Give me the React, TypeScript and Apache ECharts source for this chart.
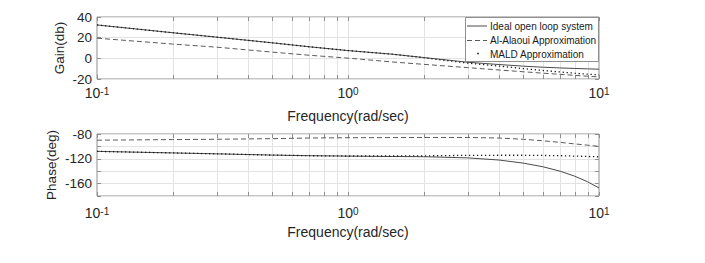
import React, { useEffect, useRef } from "react";
import * as echarts from "echarts";

const freqs = [0.1, 0.2, 0.3, 0.5, 0.7, 1, 1.5, 2, 3, 4, 5, 6, 7, 8, 9, 10];
const idealGain = [32.3, 24.8, 20.5, 15, 11.2, 7.5, 4.0, 0.8, -3.8, -6.0, -7.6, -8.6, -9.3, -9.8, -10.2, -10.5];
const alaouiGain = [19.5, 13.8, 10.8, 6.0, 3.0, 0.2, -3.5, -5.8, -9.0, -11.3, -13.0, -14.4, -15.5, -16.5, -17.3, -18.0];
const maldGain = [32.3, 24.8, 20.5, 15, 11.2, 7.5, 4.0, 0.6, -4.6, -7.5, -10.0, -11.8, -13.2, -14.4, -15.3, -16.0];
const idealPhase = [-108, -110.5, -112, -114, -115, -115.7, -116.3, -116.6, -118.5, -122, -127, -133, -140, -148, -157, -167];
const alaouiPhase = [-90, -89, -88.5, -87.5, -86.5, -86, -85.8, -85.6, -85.6, -86.5, -88.5, -91, -93.5, -96, -98, -100];
const maldPhase = [-108, -110.5, -112, -114, -115, -115.5, -115.5, -115.3, -114.4, -114.3, -114.3, -114.6, -115, -115.6, -116.2, -116.8];
const logTicks = [0.1, 0.2, 0.3, 0.4, 0.5, 0.6, 0.7, 0.8, 0.9, 1, 2, 3, 4, 5, 6, 7, 8, 9, 10];
const legendNames = ["Ideal open loop system", "Al-Alaoui Approximation", "MALD Approximation"];

const FONT = '"Liberation Sans", Arial, Helvetica, sans-serif';
const TXT = "#262626";
const GRIDC = "#e3e3e3";
const BOX = "#8f8f8f";

function pairs(vals: number[]) {
  return freqs.map((f, i) => [f, vals[i]]);
}

export default function App() {
  const ref = useRef<HTMLDivElement>(null);
  useEffect(() => {
    if (!ref.current) return;
    const chart = echarts.init(ref.current, undefined, { renderer: "svg" });

    const xAxisFor = (gridIndex: number, margin: number, nameGap: number) => ({
      type: "log",
      logBase: 10,
      gridIndex,
      min: 0.1,
      max: 10,
      name: "Frequency(rad/sec)",
      nameLocation: "middle",
      nameGap,
      nameMoveOverlap: false,
      nameTextStyle: { fontSize: 14, color: TXT, fontFamily: FONT },
      axisLine: { show: false },
      axisTick: { show: false },
      splitLine: { show: false },
      axisLabel: {
        margin,
        formatter: (v: number) => `{b|10}{s|${Math.round(Math.log10(v))}}`,
        rich: {
          b: { fontSize: 14, lineHeight: 14, color: TXT, fontFamily: FONT },
          s: { fontSize: 10, lineHeight: 8, verticalAlign: "top", color: TXT, fontFamily: FONT },
        },
      },
    });

    const yLeft = (gridIndex: number, min: number, max: number, name: string, nameGap: number, labelEvery: number) => ({
      type: "value",
      gridIndex,
      min,
      max,
      interval: 20,
      name,
      nameLocation: "middle",
      nameGap,
      nameMoveOverlap: false,
      nameTextStyle: { fontSize: 13.5, color: TXT, fontFamily: FONT },
      axisLine: { show: false },
      axisTick: { show: true, inside: true, length: 4, lineStyle: { color: BOX } },
      splitLine: { show: true, lineStyle: { color: GRIDC, width: 1 } },
      axisLabel: {
        margin: 5,
        fontSize: 13.5,
        lineHeight: 10,
        color: TXT,
        fontFamily: FONT,
        formatter: (v: number) => ((v - max) % labelEvery === 0 ? String(v) : ""),
      },
    });

    const yRight = (gridIndex: number, min: number, max: number) => ({
      type: "value",
      gridIndex,
      position: "right",
      min,
      max,
      interval: 20,
      axisLine: { show: false },
      axisTick: { show: true, inside: true, length: 4, lineStyle: { color: BOX } },
      splitLine: { show: false },
      axisLabel: { show: false },
    });

    const minorSeries = (idx: number) => ({
      type: "custom",
      xAxisIndex: idx,
      yAxisIndex: idx * 2,
      silent: true,
      z: 1,
      data: logTicks.map((f) => [f, 0]),
      renderItem: (params: any, api: any) => {
        const cs = params.coordSys;
        const f = api.value(0);
        const px = Math.round(api.coord([f, 0])[0]) + 0.5;
        const top = cs.y;
        const bot = cs.y + cs.height;
        const children: any[] = [];
        if (f > 0.1 && f < 10) {
          children.push({ type: "line", shape: { x1: px, y1: top, x2: px, y2: bot }, style: { stroke: GRIDC, lineWidth: 1 } });
        }
        children.push({ type: "line", shape: { x1: px, y1: bot, x2: px, y2: bot - 4 }, style: { stroke: BOX, lineWidth: 1 } });
        children.push({ type: "line", shape: { x1: px, y1: top, x2: px, y2: top + 4 }, style: { stroke: BOX, lineWidth: 1 } });
        return { type: "group", children };
      },
    });

    const lineS = (idx: number, name: string, vals: number[], kind: string) => ({
      type: "line",
      name,
      xAxisIndex: idx,
      yAxisIndex: idx * 2,
      data: pairs(vals),
      showSymbol: false,
      symbol: "none",
      smooth: false,
      z: 3,
      lineStyle:
        kind === "solid"
          ? { color: "#4a4a4a", width: 1, type: "solid" }
          : kind === "dashed"
          ? { color: "#5a5a5a", width: 1, type: [5, 3] }
          : { color: "#1a1a1a", width: 1.3, type: [1.3, 2.7] },
    });

    const lx = 467;
    const rows = [26, 40.5, 54.5];
    const Z = 100;

    chart.setOption({
      animation: false,
      backgroundColor: "#ffffff",
      textStyle: { fontFamily: FONT },
      grid: [
        { left: 97, top: 17, width: 502, height: 62, show: true, borderColor: BOX, borderWidth: 1, backgroundColor: "transparent" },
        { left: 97, top: 134, width: 502, height: 62, show: true, borderColor: BOX, borderWidth: 1, backgroundColor: "transparent" },
      ],
      xAxis: [xAxisFor(0, 7, 30), xAxisFor(1, 10, 29)],
      yAxis: [
        yLeft(0, -20, 40, "Gain(db)", 31, 20),
        yRight(0, -20, 40),
        yLeft(1, -180, -80, "Phase(deg)", 39, 40),
        yRight(1, -180, -80),
      ],
      series: [
        minorSeries(0),
        minorSeries(1),
        lineS(0, legendNames[0], idealGain, "solid"),
        lineS(0, legendNames[1], alaouiGain, "dashed"),
        lineS(0, legendNames[2], maldGain, "dotted"),
        lineS(1, legendNames[0], idealPhase, "solid"),
        lineS(1, legendNames[1], alaouiPhase, "dashed"),
        lineS(1, legendNames[2], maldPhase, "dotted"),
      ],
      graphic: [
        { type: "rect", z: Z, shape: { x: 465.5, y: 17.5, width: 133, height: 44 }, style: { fill: "#ffffff", stroke: BOX, lineWidth: 1 } },
        { type: "line", z: Z + 1, shape: { x1: lx, y1: rows[0], x2: lx + 20, y2: rows[0] }, style: { stroke: "#4a4a4a", lineWidth: 1 } },
        { type: "line", z: Z + 1, shape: { x1: lx, y1: rows[1], x2: lx + 20, y2: rows[1] }, style: { stroke: "#5a5a5a", lineWidth: 1, lineDash: [5, 3] } },
        { type: "circle", z: Z + 1, shape: { cx: lx + 11, cy: rows[2] - 1, r: 0.8 }, style: { fill: "#1a1a1a" } },
        ...legendNames.map((n, i) => ({
          type: "text",
          z: Z + 1,
          x: 490,
          y: rows[i],
          style: { text: n, fontSize: 10, fontFamily: FONT, fill: "#1a1a1a", verticalAlign: "middle", align: "left" },
        })),
      ],
    });
    return () => chart.dispose();
  }, []);
  return <div ref={ref} style={{ position: "fixed", left: 0, top: 0, width: 705, height: 263 }} />;
}
